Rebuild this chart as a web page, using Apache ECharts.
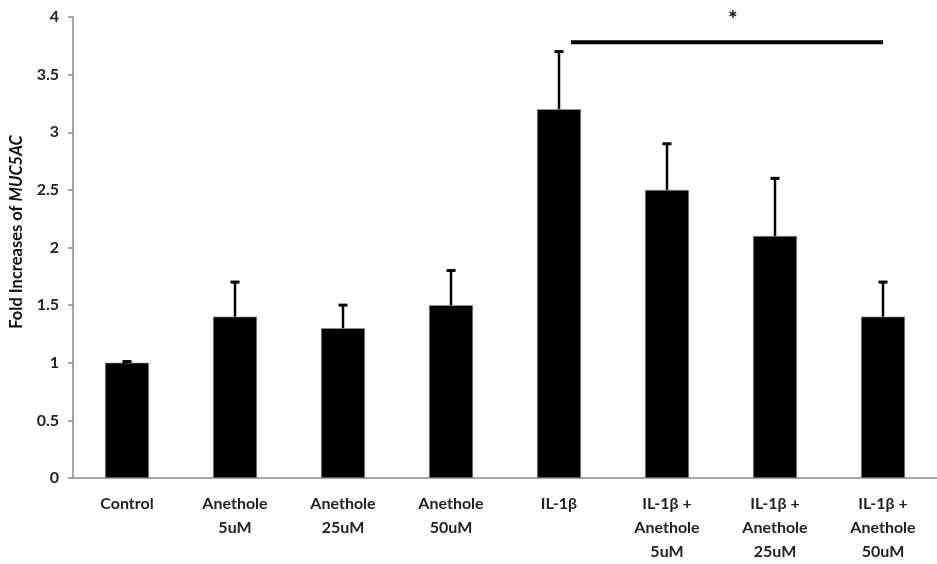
<!DOCTYPE html>
<html>
<head>
<meta charset="utf-8">
<script src="https://cdn.jsdelivr.net/npm/echarts@6/dist/echarts.min.js"></script>
<style>
  html, body { margin: 0; padding: 0; background: #fff; }
  #main { width: 937px; height: 564px; }
</style>
</head>
<body>
<div id="main"></div>
<script>
const categories = [
  "Control",
  "Anethole\n5uM",
  "Anethole\n25uM",
  "Anethole\n50uM",
  "IL-1β",
  "IL-1β +\nAnethole\n5uM",
  "IL-1β +\nAnethole\n25uM",
  "IL-1β +\nAnethole\n50uM",
];
const means = [1.0, 1.4, 1.3, 1.5, 3.2, 2.5, 2.1, 1.4];
const errorTops = [1.01, 1.7, 1.5, 1.8, 3.7, 2.9, 2.6, 1.7];
const yTicks = [0, 0.5, 1, 1.5, 2, 2.5, 3, 3.5, 4];
// significance bracket: IL-1β vs IL-1β + Anethole 50uM
const bracket = { from: 4, to: 7, value: 3.78, label: "*" };

const font = "Lato, 'Open Sans', sans-serif";

function renderErrorBar(params, api) {
  const base = api.coord([api.value(0), api.value(1)]);
  const top = api.coord([api.value(0), api.value(2)]);
  return {
    type: "group",
    children: [
      { type: "line", shape: { x1: base[0], y1: base[1], x2: top[0], y2: top[1] }, style: { stroke: "#000", lineWidth: 2.5 } },
      {
        type: "line",
        shape: { x1: top[0] - 4.5, y1: top[1], x2: top[0] + 4.5, y2: top[1] },
        style: { stroke: "#000", lineWidth: 3 },
      },
    ],
  };
}

function renderBracket(params, api) {
  const a = api.coord([api.value(0), api.value(2)]);
  const b = api.coord([api.value(1), api.value(2)]);
  const x1 = a[0] + 12;
  return {
    type: "group",
    children: [
      { type: "line", shape: { x1: x1, y1: a[1], x2: b[0], y2: b[1] }, style: { stroke: "#000", lineWidth: 4 } },
      {
        type: "text",
        style: {
          text: bracket.label,
          x: (x1 + b[0]) / 2 + 6,
          y: a[1] - 22,
          align: "center",
          verticalAlign: "middle",
          font: "900 22px " + font,
          fill: "#111",
        },
      },
    ],
  };
}

const chart = echarts.init(document.getElementById("main"));
chart.setOption({
  animation: false,
  grid: { left: 73, right: -4, top: 17, bottom: 86 },
  graphic: [
    {
      type: "text",
      x: 17,
      y: 232,
      rotation: Math.PI / 2,
      style: {
        text: "{n|Fold Increases of }{i|MUC5AC}",
        align: "center",
        verticalAlign: "middle",
        rich: {
          n: { fontFamily: font, fontWeight: "bold", fontSize: 16.5, fill: "#111" },
          i: { fontFamily: font, fontWeight: "bold", fontStyle: "italic", fontSize: 16.5, fill: "#111" },
        },
      },
    },
  ],
  xAxis: {
    type: "category",
    data: categories,
    axisLine: { lineStyle: { color: "#888", width: 1.5 } },
    axisTick: { length: 6, lineStyle: { color: "#888", width: 1.5 } },
    axisLabel: {
      color: "#222",
      fontFamily: font,
      fontWeight: "bold",
      fontSize: 16,
      lineHeight: 24,
      margin: 14,
      interval: 0,
    },
  },
  yAxis: {
    type: "value",
    min: 0,
    max: 4,
    interval: 0.5,
    splitLine: { show: false },
    axisLine: { show: true, lineStyle: { color: "#888", width: 1.5 } },
    axisTick: { show: true, length: 5, lineStyle: { color: "#888", width: 1.5 } },
    axisLabel: {
      color: "#222",
      fontFamily: font,
      fontWeight: "bold",
      fontSize: 16,
      margin: 14,
      formatter: (v) => (yTicks.includes(v) ? String(v) : ""),
    },
  },
  series: [
    {
      type: "bar",
      data: means,
      barWidth: 44,
      itemStyle: { color: "#000", borderColor: "#999", borderWidth: 0.6 },
    },
    {
      type: "custom",
      renderItem: renderErrorBar,
      data: means.map((m, i) => [i, m, errorTops[i]]),
      z: 3,
    },
    {
      type: "custom",
      renderItem: renderBracket,
      data: [[bracket.from, bracket.to, bracket.value]],
      z: 3,
    },
  ],
});
</script>
</body>
</html>
